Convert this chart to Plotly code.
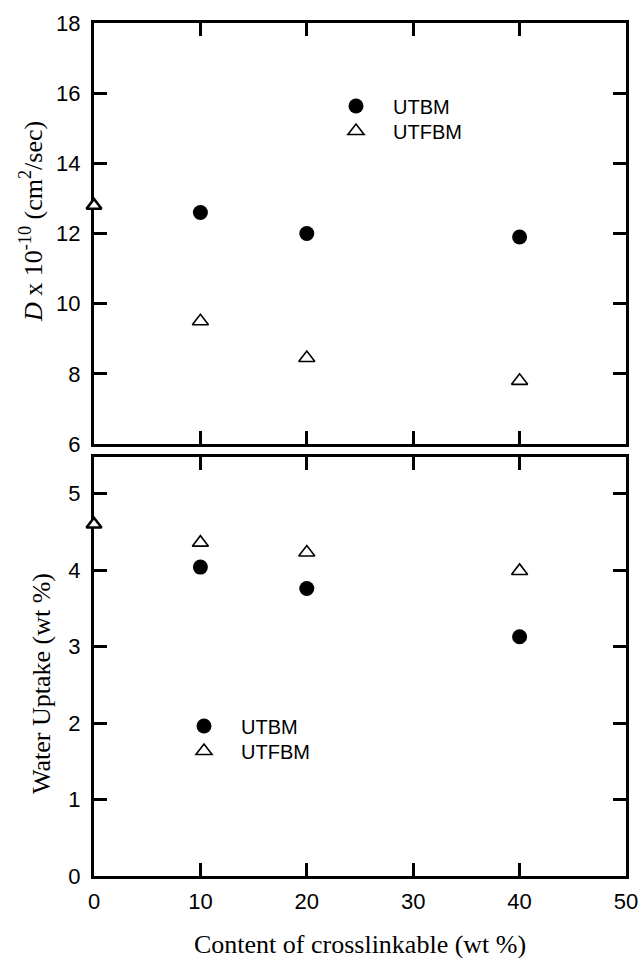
import plotly.graph_objects as go

# ---- data ----
x_utbm = [10, 20, 40]
x_utfbm = [0, 10, 20, 40]
D_utbm = [12.6, 12.0, 11.9]
D_utfbm = [12.8, 9.5, 8.45, 7.8]
W_utbm = [4.04, 3.76, 3.13]
W_utfbm = [4.6, 4.36, 4.23, 3.99]

x_ticks = [0, 10, 20, 30, 40, 50]
D_ticks = [6, 8, 10, 12, 14, 16, 18]
W_ticks = [0, 1, 2, 3, 4, 5]

W, H = 640, 958
L, R, T, B = 94, 14, 23, 82
plot_w = W - L - R
plot_h = H - T - B
top_lo = (876 - 444) / plot_h
bot_hi = (876 - 457) / plot_h


def py(ypix):
    return (H - B - ypix) / plot_h


def px(xpix):
    return (xpix - L) / plot_w


fig = go.Figure()

circle = dict(symbol="circle", size=15, color="black", line=dict(width=0))
tri = dict(symbol="triangle-up-open", size=14, color="black", line=dict(width=1.6, color="black"))
tri0 = dict(symbol="triangle-up", size=13, color="white", line=dict(width=2.6, color="black"))

# top panel
fig.add_trace(go.Scatter(x=x_utbm, y=D_utbm, mode="markers", name="UTBM", marker=circle,
                         xaxis="x", yaxis="y", legend="legend", cliponaxis=False))
fig.add_trace(go.Scatter(x=x_utfbm[1:], y=D_utfbm[1:], mode="markers", name="UTFBM", marker=tri,
                         xaxis="x", yaxis="y", legend="legend3", cliponaxis=False))
fig.add_trace(go.Scatter(x=x_utfbm[:1], y=D_utfbm[:1], mode="markers", name="UTFBM", marker=tri0,
                         xaxis="x", yaxis="y", showlegend=False, cliponaxis=False))
# bottom panel
fig.add_trace(go.Scatter(x=x_utbm, y=W_utbm, mode="markers", name="UTBM", marker=circle,
                         xaxis="x2", yaxis="y2", legend="legend2", cliponaxis=False))
fig.add_trace(go.Scatter(x=x_utfbm[1:], y=W_utfbm[1:], mode="markers", name="UTFBM", marker=tri,
                         xaxis="x2", yaxis="y2", legend="legend4", cliponaxis=False))
fig.add_trace(go.Scatter(x=x_utfbm[:1], y=W_utfbm[:1], mode="markers", name="UTFBM", marker=tri0,
                         xaxis="x2", yaxis="y2", showlegend=False, cliponaxis=False))

tick_font = dict(family="Liberation Sans, Arial, sans-serif", size=22, color="black")
axis_common = dict(showline=True, linewidth=3, linecolor="black", mirror="ticks",
                   ticks="inside", ticklen=13, tickwidth=2.5, tickcolor="black",
                   showgrid=False, zeroline=False, tickfont=tick_font, layer="below traces",
                   automargin=False)

leg_font = dict(family="Liberation Sans, Arial, sans-serif", size=20, color="black")
LEG_ITEM_W = 64


def leg(xpix, ypix):
    return dict(x=px(xpix - (LEG_ITEM_W / 2 + 5)), y=py(ypix), xanchor="left", yanchor="middle",
                font=leg_font, bgcolor="rgba(0,0,0,0)", itemwidth=LEG_ITEM_W,
                itemsizing="trace", borderwidth=0)


title_font = dict(family="Liberation Serif, Times New Roman, serif", size=26, color="black")

fig.update_layout(
    width=W, height=H, autosize=False,
    margin=dict(l=L, r=R, t=T, b=B, pad=0, autoexpand=False),
    paper_bgcolor="white", plot_bgcolor="white",
    showlegend=True,
    xaxis=dict(domain=[0, 1], range=[0, 50], tickvals=x_ticks, showticklabels=False,
               anchor="y", **axis_common),
    yaxis=dict(domain=[top_lo, 1], range=[6, 18], tickvals=D_ticks, anchor="x",
               ticklabelstandoff=6, **axis_common),
    xaxis2=dict(domain=[0, 1], range=[0, 50], tickvals=x_ticks, anchor="y2",
                ticklabelstandoff=4, **axis_common),
    yaxis2=dict(domain=[0, bot_hi], range=[0, 5.48], tickvals=W_ticks, anchor="x2",
                ticklabelstandoff=6, **axis_common),
    legend=leg(356, 106),
    legend3=leg(356, 131),
    legend2=leg(204, 726),
    legend4=leg(204, 751),
    annotations=[
        dict(text="<i>D</i> x 10<sup>-10</sup> (cm<sup>2</sup>/sec)", textangle=-90,
             xref="paper", yref="paper", x=px(31), y=py(222),
             xanchor="center", yanchor="middle", showarrow=False, font=title_font),
        dict(text="Water Uptake (wt %)", textangle=-90,
             xref="paper", yref="paper", x=px(41), y=py(684),
             xanchor="center", yanchor="middle", showarrow=False, font=title_font),
        dict(text="Content of crosslinkable (wt %)",
             xref="paper", yref="paper", x=px(360), y=py(944),
             xanchor="center", yanchor="middle", showarrow=False, font=title_font),
    ],
)

fig.write_html(
    "out.html",
    config={"displayModeBar": False, "responsive": False},
    post_script="document.body.style.margin='0';document.documentElement.style.overflow='hidden';document.body.style.overflow='hidden';",
)
